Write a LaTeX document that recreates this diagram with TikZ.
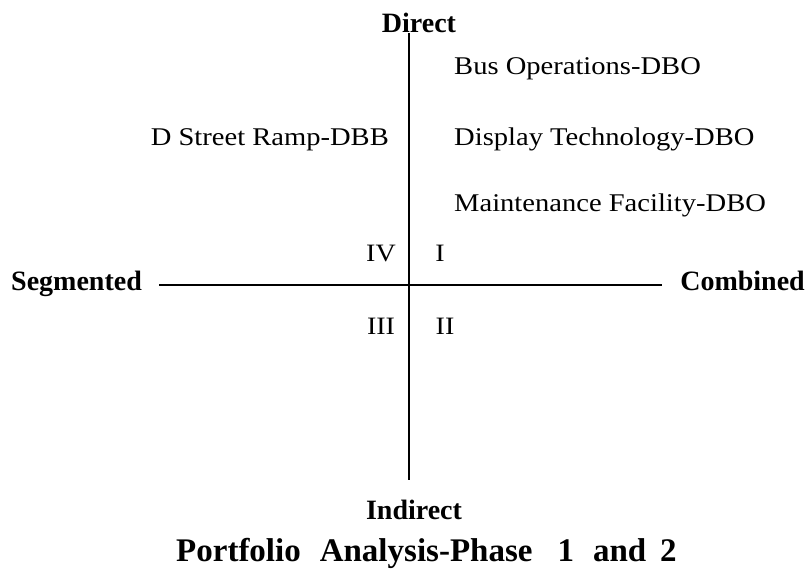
\documentclass[tikz,border=0pt]{standalone}
\usepackage{fontspec}
\setmainfont{Liberation Serif}[FakeStretch=1.12]
\newfontfamily\labelbold{Liberation Serif Bold}
\begin{document}
\begin{tikzpicture}[x=1pt,y=-1pt,
  axis/.style={line width=2.5pt,black},
  item/.style={font=\fontsize{25.5}{28}\selectfont,inner sep=0pt,anchor=base west},
  quad/.style={font=\fontsize{25}{28}\selectfont,inner sep=0pt,anchor=base},
  pole/.style={font=\fontsize{28}{30}\labelbold,inner sep=0pt,anchor=base},
  caption/.style={font=\fontsize{33}{36}\labelbold,inner sep=0pt,anchor=base west}]
\useasboundingbox[fill=white] (0,0) rectangle (805,570);
% axes
\coordinate (top) at (409,33);
\coordinate (bottom) at (409,480);
\coordinate (left) at (159,285);
\coordinate (right) at (662,285);
\draw[axis] (top) -- (bottom);
\draw[axis] (left) -- (right);
% pole labels
\node[pole] (direct) at (419,32) {Direct};
\node[pole] (indirect) at (414,519) {Indirect};
\node[pole,anchor=base west] (segmented) at (11,290) {Segmented};
\node[pole,anchor=base east] (combined) at (805,290) {Combined};
% projects
\node[item] (bus) at (454,74) {Bus Operations-DBO};
\node[item] (display) at (454,145) {Display Technology-DBO};
\node[item] (maint) at (454,211) {Maintenance Facility-DBO};
\node[item,anchor=base east] (ramp) at (389,145) {D Street Ramp-DBB};
% quadrant numerals
\node[quad] (q4) at (381,261) {IV};
\node[quad] (q1) at (440,261) {I};
\node[quad] (q3) at (381,334) {III};
\node[quad] (q2) at (445,334) {II};
% caption
\node[caption] (title) at (176,561) {Portfolio\hspace{19pt}Analysis-Phase\hspace{25pt}1\hspace{19pt}and\hspace{14pt}2};
\end{tikzpicture}
\end{document}
